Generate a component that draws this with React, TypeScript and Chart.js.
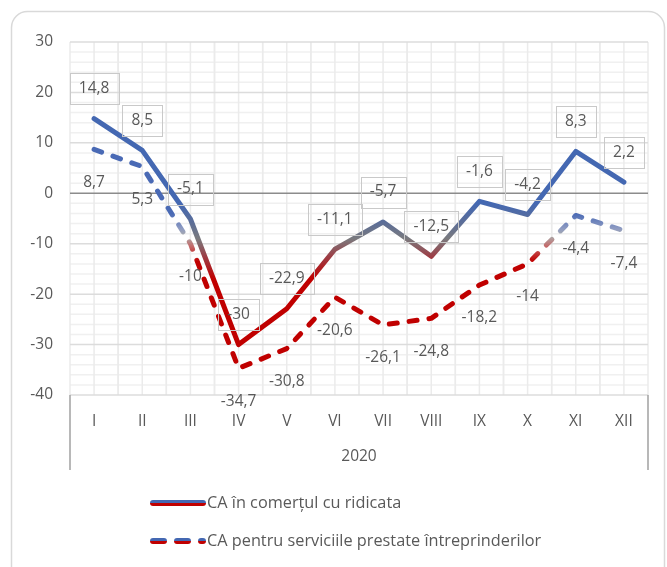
import React, { useEffect, useRef } from 'react';
import { Chart, registerables } from 'chart.js';

Chart.register(...registerables);

const categories = ['I', 'II', 'III', 'IV', 'V', 'VI', 'VII', 'VIII', 'IX', 'X', 'XI', 'XII'];
const wholesaleValues = [14.8, 8.5, -5.1, -30, -22.9, -11.1, -5.7, -12.5, -1.6, -4.2, 8.3, 2.2];
const servicesValues = [8.7, 5.3, -10, -34.7, -30.8, -20.6, -26.1, -24.8, -18.2, -14, -4.4, -7.4];
const seriesNames = ['CA în comerțul cu ridicata', 'CA pentru serviciile prestate întreprinderilor'];
const yearLabel = '2020';
const yMin = -40;
const yMax = 30;
const yMajorStep = 10;
const yMinorStep = 2;

const TEXT = '#595959';
const FONT = '"Open Sans"';

const solidStops: [number, string][] = [
  [-2, '#4468B2'],
  [-6, '#5D6E96'],
  [-9, '#7A7A7E'],
  [-12.5, '#9C3E46'],
  [-17, '#C00000'],
];
const dashedStops: [number, string][] = [
  [-4, '#4A6AB5'],
  [-7, '#8E9BC2'],
  [-8.5, '#ABABAB'],
  [-10.5, '#C46A6A'],
  [-13.5, '#C00000'],
];

function valueGradient(chart: any, stops: [number, string][]) {
  const { ctx, chartArea, scales } = chart;
  if (!chartArea || !scales.y) return stops[0][1];
  const y = scales.y;
  const top = y.getPixelForValue(yMax);
  const bottom = y.getPixelForValue(yMin);
  const g = ctx.createLinearGradient(0, top, 0, bottom);
  for (const [v, c] of stops) {
    const f = (y.getPixelForValue(v) - top) / (bottom - top);
    g.addColorStop(Math.min(1, Math.max(0, f)), c);
  }
  return g;
}

const fmt = (v: number) => String(v).replace('.', ',');

const backgroundPlugin = {
  id: 'bgFrame',
  beforeDraw(chart: any) {
    const { ctx } = chart;
    ctx.save();
    ctx.fillStyle = '#ffffff';
    ctx.fillRect(0, 0, chart.width, chart.height);
    const x = 11.5, y = 11.5, w = 653, h = 620, r = 16;
    ctx.beginPath();
    ctx.moveTo(x + r, y);
    ctx.arcTo(x + w, y, x + w, y + h, r);
    ctx.arcTo(x + w, y + h, x, y + h, r);
    ctx.arcTo(x, y + h, x, y, r);
    ctx.arcTo(x, y, x + w, y, r);
    ctx.closePath();
    ctx.strokeStyle = '#D9D9D9';
    ctx.lineWidth = 1.5;
    ctx.stroke();
    ctx.restore();
  },
};

const gridPlugin = {
  id: 'customGrid',
  beforeDatasetsDraw(chart: any) {
    const { ctx, chartArea, scales } = chart;
    const { left, right, top, bottom } = chartArea;
    const y = scales.y;
    const x = scales.x;
    ctx.save();
    ctx.lineWidth = 1.5;
    ctx.strokeStyle = '#F0F0F0';
    for (let v = yMin; v <= yMax; v += yMinorStep) {
      if (v % yMajorStep === 0) continue;
      const py = y.getPixelForValue(v);
      ctx.beginPath();
      ctx.moveTo(left, py);
      ctx.lineTo(right, py);
      ctx.stroke();
    }
    ctx.strokeStyle = '#EBEBEB';
    const half = (x.getPixelForValue(1) - x.getPixelForValue(0)) / 2;
    for (let i = 0; i < categories.length; i++) {
      const c = x.getPixelForValue(i);
      for (const px of [c - half, c, c + half]) {
        ctx.beginPath();
        ctx.moveTo(px, top);
        ctx.lineTo(px, bottom);
        ctx.stroke();
      }
    }
    ctx.strokeStyle = '#DCDCDC';
    for (let v = yMin; v <= yMax; v += yMajorStep) {
      if (v === 0) continue;
      const py = y.getPixelForValue(v);
      ctx.beginPath();
      ctx.moveTo(left, py);
      ctx.lineTo(right, py);
      ctx.stroke();
    }
    ctx.strokeStyle = '#8C8C8C';
    const z = y.getPixelForValue(0);
    ctx.beginPath();
    ctx.moveTo(left, z);
    ctx.lineTo(right, z);
    ctx.stroke();
    ctx.restore();
  },
};

const labelPlugin = {
  id: 'valueLabels',
  afterDatasetsDraw(chart: any) {
    const { ctx } = chart;
    ctx.save();
    ctx.font = `15.5px ${FONT}`;
    ctx.fillStyle = TEXT;
    ctx.textAlign = 'center';
    ctx.textBaseline = 'middle';
    chart.data.datasets.forEach((ds: any, di: number) => {
      const meta = chart.getDatasetMeta(di);
      meta.data.forEach((pt: any, i: number) => {
        const txt = fmt(ds.data[i]);
        if (di === 0) {
          const cy = pt.y - 30;
          const w = Math.round(ctx.measureText(txt).width + 18);
          ctx.strokeStyle = '#C9C9C9';
          ctx.lineWidth = 1;
          ctx.strokeRect(Math.round(pt.x - w / 2) + 0.5, Math.round(cy - 15.5) + 0.5, w, 31);
          ctx.fillText(txt, pt.x, cy);
        } else {
          ctx.fillText(txt, pt.x, pt.y + 33);
        }
      });
    });
    ctx.restore();
  },
};

const legendPlugin = {
  id: 'customLegend',
  afterDraw(chart: any) {
    const { ctx, chartArea } = chart;
    ctx.save();
    ctx.strokeStyle = '#A0A0A0';
    ctx.lineWidth = 1.5;
    for (const px of [chartArea.left, chartArea.right]) {
      ctx.beginPath();
      ctx.moveTo(px, chartArea.bottom);
      ctx.lineTo(px, chartArea.bottom + 75);
      ctx.stroke();
    }
    const rows = [chartArea.bottom + 108, chartArea.bottom + 146];
    const x0 = 150;
    const x1 = 206;
    rows.forEach((ry, i) => {
      const g = ctx.createLinearGradient(0, ry - 3, 0, ry + 3);
      g.addColorStop(0, '#4468B2');
      g.addColorStop(0.5, '#4468B2');
      g.addColorStop(0.5, '#C00000');
      g.addColorStop(1, '#C00000');
      ctx.strokeStyle = g;
      ctx.lineWidth = 6;
      ctx.lineCap = 'round';
      if (i === 0) {
        ctx.setLineDash([]);
      } else {
        ctx.setLineDash([11, 13]);
      }
      ctx.beginPath();
      ctx.moveTo(x0 + 3, ry);
      ctx.lineTo(x1 - 3, ry);
      ctx.stroke();
      ctx.setLineDash([]);
      ctx.fillStyle = TEXT;
      ctx.font = `16.3px ${FONT}`;
      ctx.textAlign = 'left';
      ctx.textBaseline = 'middle';
      ctx.fillText(seriesNames[i], x1 + 1, ry);
    });
    ctx.restore();
  },
};

export default function App() {
  const canvasRef = useRef<HTMLCanvasElement | null>(null);

  useEffect(() => {
    if (!canvasRef.current) return;
    Chart.defaults.font.family = FONT;
    const chart = new Chart(canvasRef.current, {
      type: 'line',
      data: {
        labels: categories,
        datasets: [
          {
            label: seriesNames[0],
            data: wholesaleValues,
            borderColor: (c: any) => valueGradient(c.chart, solidStops),
            borderWidth: 5,
            borderJoinStyle: 'round',
            borderCapStyle: 'round',
            pointRadius: 0,
            pointHoverRadius: 0,
            fill: false,
            tension: 0,
          },
          {
            label: seriesNames[1],
            data: servicesValues,
            borderColor: (c: any) => valueGradient(c.chart, dashedStops),
            borderWidth: 5,
            borderDash: [8, 12],
            borderJoinStyle: 'round',
            borderCapStyle: 'round',
            pointRadius: 0,
            pointHoverRadius: 0,
            fill: false,
            tension: 0,
          },
        ],
      },
      options: {
        responsive: false,
        animation: false,
        events: [],
        layout: { padding: { left: 0, top: 42, right: 19, bottom: 92 } },
        plugins: {
          legend: { display: false },
          tooltip: { enabled: false },
        },
        scales: {
          x: {
            type: 'category',
            offset: true,
            grid: { display: false, drawTicks: false },
            border: { display: false },
            ticks: {
              color: TEXT,
              font: { size: 15.5, family: FONT },
              padding: 17,
              maxRotation: 0,
              autoSkip: false,
            },
            title: {
              display: true,
              text: yearLabel,
              color: TEXT,
              font: { size: 15.5, family: FONT },
              padding: { top: 0, bottom: 9 },
            },
            afterFit: (s: any) => {
              s.height = 80;
            },
          },
          y: {
            min: yMin,
            max: yMax,
            grid: { display: false, drawTicks: false },
            border: { display: false },
            ticks: {
              stepSize: yMajorStep,
              color: TEXT,
              font: { size: 15.5, family: FONT },
              padding: 17,
            },
            afterFit: (s: any) => {
              s.width = 70;
            },
          },
        },
      },
      plugins: [backgroundPlugin, gridPlugin, labelPlugin, legendPlugin],
    } as any);
    return () => chart.destroy();
  }, []);

  return (
    <div style={{ position: 'fixed', left: 0, top: 0, width: 667, height: 567 }}>
      <canvas ref={canvasRef} width={667} height={567} style={{ display: 'block' }} />
    </div>
  );
}
